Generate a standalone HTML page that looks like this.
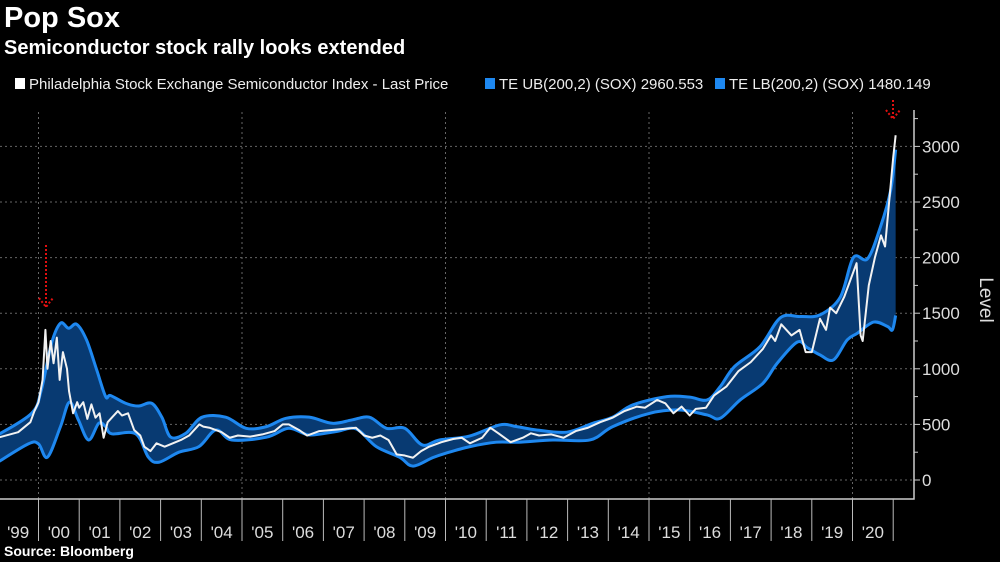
<!DOCTYPE html>
<html><head><meta charset="utf-8">
<style>
body{margin:0;background:#000;width:1000px;height:562px;overflow:hidden;font-family:"Liberation Sans",sans-serif;color:#fff}
#title{position:absolute;left:4px;top:2px;font-size:29px;font-weight:bold}
#sub{position:absolute;left:4px;top:37px;font-size:20px;font-weight:bold}
#src{position:absolute;left:4px;top:543px;font-size:14px;font-weight:bold}
svg{position:absolute;left:0;top:0}
</style></head><body>
<div id="title">Pop Sox</div>
<div id="sub">Semiconductor stock rally looks extended</div>
<div id="src">Source: Bloomberg</div>
<svg id="chart" width="1000" height="562"></svg>
<script>
const priceT=[1999.0,1999.5,1999.8,1999.9,2000.0,2000.1,2000.17,2000.22,2000.3,2000.37,2000.45,2000.52,2000.6,2000.7,2000.75,2000.85,2000.95,2001.0,2001.1,2001.2,2001.3,2001.4,2001.5,2001.6,2001.7,2001.8,2001.95,2002.05,2002.2,2002.35,2002.5,2002.6,2002.75,2002.9,2003.1,2003.3,2003.5,2003.7,2003.95,2004.05,2004.2,2004.5,2004.7,2004.9,2005.2,2005.5,2005.8,2006.0,2006.15,2006.4,2006.6,2006.9,2007.2,2007.5,2007.8,2008.0,2008.2,2008.4,2008.6,2008.8,2009.0,2009.2,2009.4,2009.6,2009.9,2010.2,2010.4,2010.6,2010.9,2011.1,2011.3,2011.6,2011.9,2012.1,2012.3,2012.6,2012.9,2013.2,2013.5,2013.8,2014.1,2014.4,2014.7,2014.9,2015.2,2015.4,2015.6,2015.8,2016.0,2016.15,2016.4,2016.6,2016.9,2017.2,2017.5,2017.8,2018.0,2018.1,2018.25,2018.5,2018.7,2018.85,2019.0,2019.2,2019.35,2019.45,2019.6,2019.8,2019.95,2020.1,2020.2,2020.25,2020.4,2020.55,2020.7,2020.8,2020.9,2021.0,2021.06];
const priceV=[380,430,520,620,700,900,1350,1000,1250,1050,1280,900,1150,1000,800,600,700,650,700,550,680,560,600,380,520,560,620,580,600,450,400,300,260,330,300,330,360,400,500,480,470,430,380,400,390,410,440,500,500,450,400,440,450,460,470,400,380,400,360,230,220,200,260,300,340,370,380,330,380,470,420,340,380,420,400,410,380,440,470,520,560,620,660,650,720,690,600,660,580,640,650,760,840,980,1060,1180,1300,1250,1400,1300,1350,1150,1150,1450,1350,1550,1500,1650,1800,1950,1300,1250,1750,2000,2200,2100,2500,2900,3100];
const upT=[1999.0,1999.83,2000.07,2000.32,2000.54,2000.74,2000.94,2001.18,2001.43,2001.65,2001.77,2002.14,2002.46,2002.78,2003.03,2003.25,2003.62,2004.02,2004.6,2005.1,2005.6,2006.08,2006.65,2007.22,2007.7,2008.13,2008.55,2009.0,2009.43,2009.85,2010.59,2011.33,2011.75,2012.24,2012.98,2013.62,2014.11,2014.6,2015.44,2016.0,2016.43,2016.75,2017.1,2017.73,2018.23,2018.72,2019.2,2019.7,2020.02,2020.37,2020.69,2020.94,2021.06];
const upV=[405,600,810,1230,1410,1365,1400,1260,990,750,760,690,665,690,565,385,420,565,565,465,480,555,565,510,540,565,465,465,315,360,395,495,480,450,430,510,565,675,750,745,720,840,1020,1200,1460,1470,1485,1645,2000,1990,2280,2610,2970];
const loT=[1999.0,1999.75,2000.0,2000.22,2000.54,2000.76,2000.98,2001.23,2001.48,2001.65,2001.8,2002.39,2002.7,2002.96,2003.45,2003.94,2004.36,2004.75,2005.6,2006.15,2006.65,2007.3,2007.8,2008.3,2008.87,2009.2,2009.68,2010.0,2010.6,2011.25,2011.8,2012.64,2013.55,2014.11,2015.02,2015.76,2016.43,2016.75,2017.24,2017.8,2018.15,2018.64,2018.89,2019.2,2019.53,2019.87,2020.12,2020.52,2020.86,2020.98,2021.06];
const loV=[160,325,325,205,480,700,540,360,510,480,415,415,205,160,250,300,450,360,385,465,405,435,460,300,205,125,200,240,300,340,340,360,360,480,600,630,585,555,720,870,1050,1240,1190,1125,1080,1260,1320,1420,1380,1350,1480];
const yTicks=[0,500,1000,1500,2000,2500,3000];
const xLabels=["'99","'00","'01","'02","'03","'04","'05","'06","'07","'08","'09","'10","'11","'12","'13","'14","'15","'16","'17","'18","'19","'20"];
const xYears=[1999,2000,2001,2002,2003,2004,2005,2006,2007,2008,2009,2010,2011,2012,2013,2014,2015,2016,2017,2018,2019,2020];

const X=t=>38.5+(t-2000)*40.7;
const Y=v=>480-v*0.1112;
const svg=document.getElementById('chart');
const NS='http://www.w3.org/2000/svg';
function mk(tag,attrs,parent){const e=document.createElementNS(NS,tag);for(const k in attrs)e.setAttribute(k,attrs[k]);(parent||svg).appendChild(e);return e;}
function smooth(p,move){let d=move?'M'+p[0][0]+' '+p[0][1]:'L'+p[0][0]+' '+p[0][1];
  for(let i=0;i<p.length-1;i++){const p0=p[i-1]||p[i],p1=p[i],p2=p[i+1],p3=p[i+2]||p2;
    const c1=[p1[0]+(p2[0]-p0[0])/6,p1[1]+(p2[1]-p0[1])/6],c2=[p2[0]-(p3[0]-p1[0])/6,p2[1]-(p3[1]-p1[1])/6];
    d+=` C${c1[0]} ${c1[1]} ${c2[0]} ${c2[1]} ${p2[0]} ${p2[1]}`;}
  return d;}

yTicks.forEach(v=>{
  const l=mk('line',{x1:0,x2:914,y1:Y(v),y2:Y(v),stroke:'#666','stroke-dasharray':'2,3','stroke-width':1});
  
  
  const tk=mk('line',{x1:914,x2:920,y1:Y(v),y2:Y(v),stroke:'#ccc'});
  
  
  const tx=mk('text',{x:922,y:Y(v)+6,fill:'#ddd','font-size':17});
  tx.textContent=v;
  
  
});
for(let v=250;v<3300;v+=500){const tk=mk('line',{x1:914,x2:918,y1:Y(v),y2:Y(v),stroke:'#ccc'});
  
  }
[2000,2005,2010,2015,2020].forEach(t=>{
  const l=mk('line',{x1:X(t),x2:X(t),y1:112,y2:499,stroke:'#666','stroke-dasharray':'2,3'});
  
  
});
const upP=upT.map((t,i)=>[X(t),Y(upV[i])]);
const loP=loT.map((t,i)=>[X(t),Y(loV[i])]);
const band=mk('path',{d:smooth(upP,true)+smooth(loP.slice().reverse(),false)+'Z',fill:'#083a72'});


const up=mk('path',{d:smooth(upP,true),fill:'none',stroke:'#1e88f0','stroke-width':3,'stroke-linejoin':'round'});


const lo=mk('path',{d:smooth(loP,true),fill:'none',stroke:'#1e88f0','stroke-width':3,'stroke-linejoin':'round'});


const pr=mk('polyline',{points:priceT.map((t,i)=>X(t)+','+Y(priceV[i])).join(' '),fill:'none',stroke:'#f2f2f2','stroke-width':2,'stroke-linejoin':'round'});


const ax=mk('path',{d:'M914 110 V499 H0',fill:'none',stroke:'#ccc','stroke-width':1.5});


xYears.forEach((t,i)=>{
  if(t>1999){const tk=mk('line',{x1:X(t),x2:X(t),y1:499,y2:541,stroke:'#bbb'});
  
  }
  const tx=mk('text',{x:X(t+0.5),y:538,fill:'#ddd','font-size':17,'text-anchor':'middle'});
  tx.textContent=xLabels[i];
  
  
});
const tk21=mk('line',{x1:X(2021),x2:X(2021),y1:499,y2:541,stroke:'#bbb'});


const yt=mk('text',{x:0,y:0,fill:'#ddd','font-size':19,'text-anchor':'middle',transform:'translate(980,300) rotate(90)'});
yt.textContent='Level';


[[46,245,307],[893,100,119]].forEach(a=>{
  const g=mk('g',{});
  
  
  mk('line',{x1:a[0],x2:a[0],y1:a[1],y2:a[2],stroke:'#e01010','stroke-width':2,'stroke-dasharray':'2,2'},g);
  mk('path',{d:`M${a[0]-7} ${a[2]-9} L${a[0]} ${a[2]} L${a[0]+7} ${a[2]-9}`,fill:'none',stroke:'#e01010','stroke-width':2,'stroke-dasharray':'2,2'},g);
});
const leg=[[8,'#fff',"Philadelphia Stock Exchange Semiconductor Index - Last Price",'legend-price'],[478,'#1e88f0','TE UB(200,2) (SOX) 2960.553','legend-upper-band'],[708,'#1e88f0','TE LB(200,2) (SOX) 1480.149','legend-lower-band']];
leg.forEach(l=>{
  const g=mk('g',{});
  
  
  mk('rect',{x:l[0]+7,y:78,width:10,height:11,fill:l[1]},g);
  const t=mk('text',{x:l[0]+21,y:89,fill:'#eee','font-size':15},g);
  t.textContent=l[2];
});
</script>
</body></html>
